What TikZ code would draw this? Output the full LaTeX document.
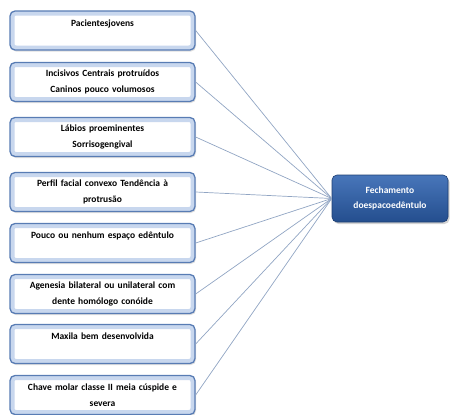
\documentclass[tikz,border=0pt]{standalone}
\usepackage{fontspec}
\setmainfont{Carlito}
\usetikzlibrary{shadows}
\definecolor{boxborder}{RGB}{88,124,180}
\definecolor{boxglow}{RGB}{200,215,238}
\definecolor{linkcol}{RGB}{145,165,195}
\definecolor{darktop}{RGB}{72,118,186}
\definecolor{darkbot}{RGB}{36,78,142}
\tikzset{
  leftbox/.style={draw=boxborder, line width=1.3pt, rounded corners=5pt,
    fill=white, minimum width=185pt, minimum height=39pt, inner sep=2pt,
    text width=180pt, align=center, font=\fontsize{9.5}{15.5}\selectfont\bfseries,
    drop shadow={shadow xshift=1pt, shadow yshift=-1.5pt, opacity=0.25},
    path picture={\draw[boxglow, line width=9pt, rounded corners=6pt]
      (path picture bounding box.south west) rectangle (path picture bounding box.north east);}},
  mainbox/.style={draw=darkbot!80!black, line width=0.6pt, rounded corners=5pt,
    top color=darktop, bottom color=darkbot, text=white,
    minimum width=116pt, minimum height=47pt, inner sep=2pt,
    align=center, font=\fontsize{9.5}{15}\selectfont\bfseries,
    drop shadow={shadow xshift=1.5pt, shadow yshift=-2pt, opacity=0.35}},
  link/.style={draw=linkcol, line width=0.7pt}
}
\begin{document}
\begin{tikzpicture}[x=1pt, y=-1pt]
\useasboundingbox (0,0) rectangle (451,415);
\node[leftbox] (b1) at (102.5,30.5) {Pacientesjovens\\\mbox{}};
\node[leftbox] (b2) at (102.5,82) {Incisivos Centrais protruídos\\Caninos pouco volumosos};
\node[leftbox] (b3) at (102.5,137) {Lábios proeminentes\\Sorrisogengival};
\node[leftbox] (b4) at (102.5,192) {Perfil facial convexo Tendência à\\protrusão};
\node[leftbox] (b5) at (102.5,243) {Pouco ou nenhum espaço edêntulo\\\mbox{}};
\node[leftbox] (b6) at (102.5,294) {Agenesia bilateral ou unilateral com\\dente homólogo conóide};
\node[leftbox] (b7) at (102.5,344) {Maxila bem desenvolvida\\\mbox{}};
\node[leftbox] (b8) at (102.5,395) {Chave molar classe II meia cúspide e\\severa};
\node[mainbox] (f) at (390,198.5) {Fechamento\\doespacoedêntulo};
\foreach \i in {1,...,8} {
  \draw[link] (b\i.east) -- (f.west);
}
\end{tikzpicture}
\end{document}
